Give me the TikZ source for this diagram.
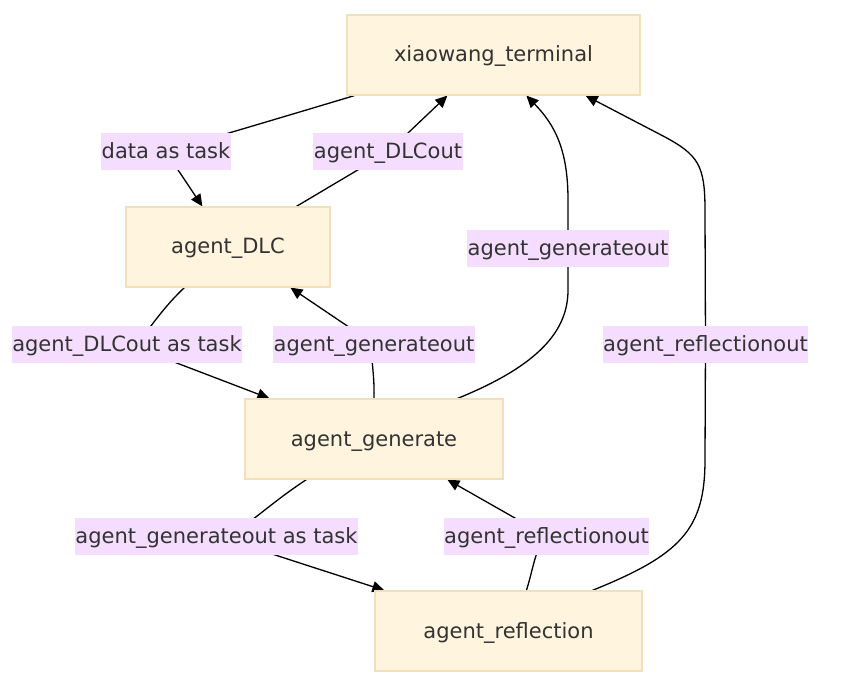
\documentclass[tikz,border=0pt]{standalone}
\usepackage{fontspec}
\setmainfont{DejaVu Sans}
\usetikzlibrary{arrows.meta}
\definecolor{nodefill}{RGB}{255,244,221}
\definecolor{nodeline}{RGB}{242,224,184}
\definecolor{lblfill}{RGB}{244,221,255}
\definecolor{txt}{RGB}{51,51,51}
\pgfdeclarelayer{bg}
\pgfsetlayers{bg,main}
\begin{document}
\begin{tikzpicture}[x=1pt,y=-1pt,
  fnt/.style={font=\fontsize{21}{25}\selectfont, text=txt, text height=19pt, text depth=5pt},
  box/.style={fnt, draw=nodeline, fill=nodefill, line width=1.2pt, minimum height=80pt, inner sep=0pt},
  lbl/.style={fnt, fill=lblfill, inner xsep=0.5pt, inner ysep=0pt, minimum height=37pt},
  edge/.style={line width=1.3pt, draw=black, -{Triangle[length=12pt,width=11pt]}}]
\useasboundingbox (0,0) rectangle (844,698);
\node[box, minimum width=293pt] (T) at (493.5,55) {xiaowang\_terminal};
\node[box, minimum width=204pt] (D) at (228,247) {agent\_DLC};
\node[box, minimum width=258pt] (G) at (374,439) {agent\_generate};
\node[box, minimum width=267pt] (R) at (508.5,631) {agent\_reflection};

\node[lbl] (l1) at (166,152) {data as task};
\node[lbl] (l2) at (388,152) {agent\_DLCout};
\node[lbl] (l3) at (568,248) {agent\_generateout};
\node[lbl] (l4) at (127,344) {agent\_DLCout as task};
\node[lbl] (l5) at (374,344) {agent\_generateout};
\node[lbl] (l6) at (705.5,344) {agent\_reflectionout};
\node[lbl] (l7) at (216.5,536) {agent\_generateout as task};
\node[lbl] (l8) at (546.5,536) {agent\_reflectionout};

\begin{pgfonlayer}{bg}
% T -> D
\draw[edge] ([xshift=8pt]T.south west) .. controls (220,136) and (170,150) .. (l1.center) -- ([xshift=77pt]D.north west);
% D -> T
\draw[edge] ([xshift=171pt]D.north west) -- (l2.center) -- ([xshift=101pt]T.south west);
% D -> G
\draw[edge] ([xshift=59pt]D.south west) .. controls (150,320) and (140,350) .. (l4.center) -- ([xshift=25pt]G.north west);
% G -> D
\draw[edge] (G.north) .. controls (375,370) and (368,345) .. (l5.center) -- ([xshift=165pt]D.south west);
% G -> T
\draw[edge] ([xshift=-46pt]G.north east) .. controls (540,365) and (568,330) .. (568,290) -- (l3.center) -- (568,200) .. controls (568,150) and (555,125) .. ([xshift=180pt]T.south west);
% G -> R
\draw[edge] ([xshift=62pt]G.south west) .. controls (260,510) and (235,540) .. (l7.center) -- ([xshift=10pt]R.north west);
% R -> G
\draw[edge] ([xshift=152pt]R.north west) .. controls (533,570) and (536,545) .. (l8.center) -- ([xshift=203pt]G.south west);
% R -> T
\draw[edge] ([xshift=218pt]R.north west) .. controls (680,555) and (705,530) .. (705,460) -- (l6.center) -- (705,210) .. controls (705,165) and (698,155) .. (665,137) -- ([xshift=-55pt]T.south east);
\end{pgfonlayer}
\end{tikzpicture}
\end{document}
